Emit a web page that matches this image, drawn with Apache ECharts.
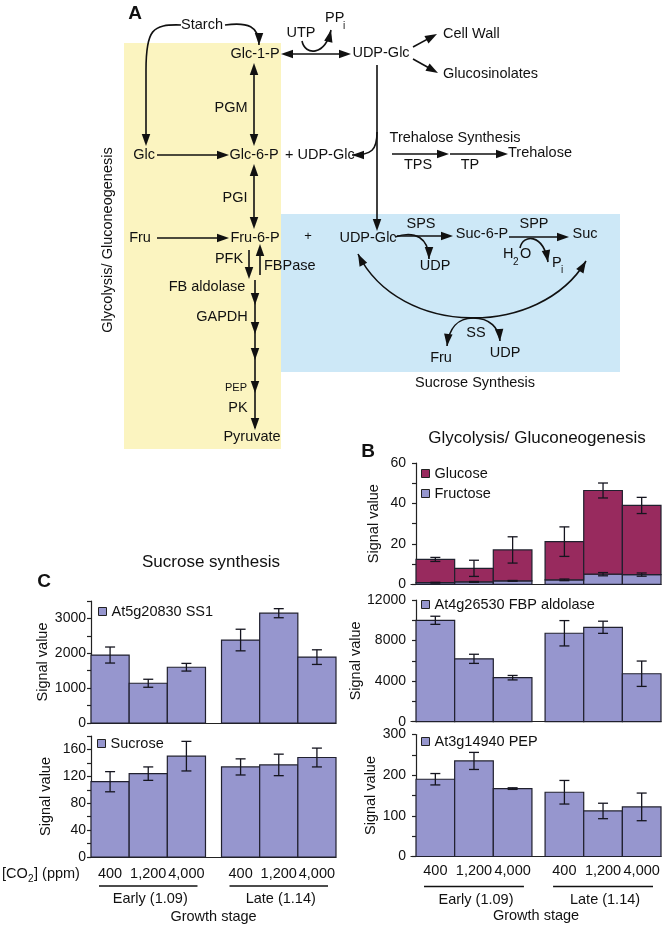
<!DOCTYPE html>
<html><head><meta charset="utf-8">
<script src="https://cdn.jsdelivr.net/npm/echarts/dist/echarts.min.js"></script>
<style>html,body{margin:0;padding:0;background:#fff}#c{width:667px;height:928px}</style>
</head><body><div id="c"></div>
<script>
// ---------- data ----------
const co2Labels = ['400','1,200','4,000','400','1,200','4,000'];
const stageLabels = ['Early (1.09)','Late (1.14)'];
const fructose = [0.8, 1.2, 1.7, 2.2, 5.0, 4.8];
const fructoseErr = [0.2, 0.2, 0.2, 0.4, 0.8, 0.8];
const glucose = [11.5, 6.7, 15.3, 18.9, 41.4, 34.2];   // stacked on fructose
const glucoseErr = [1.0, 4.0, 6.5, 7.3, 3.7, 4.0];
const fbpAldolase = [10000, 6200, 4340, 8720, 9310, 4730];
const fbpErr = [400, 450, 220, 1250, 600, 1250];
const pep = [190, 235, 167, 158, 112, 122];
const pepErr = [14, 21, 2, 29, 19, 34];
const ss1 = [1950, 1140, 1600, 2380, 3150, 1890];
const ss1Err = [230, 115, 110, 310, 130, 210];
const sucrose = [112, 124, 150, 134, 137, 148];
const sucroseErr = [15, 10, 22, 12, 16, 14];

// ---------- style ----------
const FONT = '"Liberation Sans", Arial, Helvetica, sans-serif';
const BAR = '#9696CE', GLU = '#982A5E', EDGE = '#20202e', INK = '#111';
const GAP_B = 0.34, GAP_C = 0.42;
function xPos(i, gap){ return i + 0.5 + (i >= 3 ? gap : 0); }

// ---------- chart series helpers ----------
function barSeries(name, gi, color, vals, bases, gap){
  return { type:'custom', name, xAxisIndex:gi, yAxisIndex:gi, z:3,
    itemStyle:{color, borderColor:EDGE, borderWidth:1},
    data: vals.map((v,i)=>{ const b = bases ? bases[i] : 0; return [xPos(i,gap), b, b+v]; }),
    renderItem(params, api){
      const x = api.value(0);
      const a = api.coord([x-0.5, api.value(1)]);
      const b = api.coord([x+0.5, api.value(2)]);
      return {type:'rect', shape:{x:a[0], y:b[1], width:b[0]-a[0], height:a[1]-b[1]},
        style:{fill:color, stroke:EDGE, lineWidth:1.2}};
    }};
}
function errSeries(gi, vals, errs, bases, gap){
  return { type:'custom', name:'err'+gi+'_'+(bases?'s':'b'), xAxisIndex:gi, yAxisIndex:gi, z:6, silent:true,
    data: vals.map((v,i)=>{ const c = v + (bases ? bases[i] : 0); return [xPos(i,gap), c-errs[i], c+errs[i]]; }),
    renderItem(params, api){
      const x = api.value(0);
      const lo = api.coord([x, api.value(1)]);
      const hi = api.coord([x, api.value(2)]);
      const h = 5, st = {stroke:'#15151f', lineWidth:1.3};
      return {type:'group', children:[
        {type:'line', shape:{x1:lo[0],y1:lo[1],x2:hi[0],y2:hi[1]}, style:st},
        {type:'line', shape:{x1:lo[0]-h,y1:lo[1],x2:lo[0]+h,y2:lo[1]}, style:st},
        {type:'line', shape:{x1:hi[0]-h,y1:hi[1],x2:hi[0]+h,y2:hi[1]}, style:st}]};
    }};
}
function xLabelSeries(gi, gap, dy){
  return { type:'custom', name:'xl'+gi, xAxisIndex:gi, yAxisIndex:gi, silent:true, clip:false,
    data: co2Labels.map((l,i)=>[xPos(i,gap), 0]),
    renderItem(params, api){
      const p = api.coord([api.value(0), 0]);
      return {type:'text', x:p[0], y:p[1]+dy, style:{text:co2Labels[params.dataIndex], font:'14.5px '+FONT,
        fill:'#111', align:'center', verticalAlign:'middle'}};
    }};
}
function stageSeries(gi, gap, lineDy, textDy, inset){
  return { type:'custom', name:'st'+gi, xAxisIndex:gi, yAxisIndex:gi, silent:true, clip:false,
    data: stageLabels.map((s,k)=>[k*3 + (k ? gap : 0), k*3 + 3 + (k ? gap : 0)]),
    renderItem(params, api){
      const a = api.coord([api.value(0), 0]);
      const b = api.coord([api.value(1), 0]);
      return {type:'group', children:[
        {type:'line', shape:{x1:a[0]+inset, y1:a[1]+lineDy, x2:b[0]-inset, y2:a[1]+lineDy}, style:{stroke:'#111', lineWidth:1.3}},
        {type:'text', x:(a[0]+b[0])/2+2, y:a[1]+textDy, style:{text:stageLabels[params.dataIndex], font:'14.5px '+FONT,
          fill:'#111', align:'center', verticalAlign:'middle'}}]};
    }};
}
function yAx(gi, max, interval, every, nameGap){
  return {type:'value', gridIndex:gi, min:0, max, interval, name:'Signal value', nameLocation:'middle', nameGap,
    nameTextStyle:{fontSize:14.5, color:'#111', fontFamily:FONT},
    axisLine:{show:true, lineStyle:{color:'#222', width:1.2}},
    axisTick:{show:true, length:4, lineStyle:{color:'#222', width:1.2}},
    axisLabel:{fontSize:14, color:'#111', fontFamily:FONT, margin:5, formatter: v => (v % every === 0 ? String(v) : '')},
    splitLine:{show:false}};
}
function xAx(gi, min, max, name){
  return {type:'value', gridIndex:gi, min, max, name: name || '', nameLocation:'middle', nameGap:52,
    nameTextStyle:{fontSize:14.5, color:'#111', fontFamily:FONT},
    axisLine:{show:true, onZero:false, lineStyle:{color:'#222', width:1.2}},
    axisTick:{show:false}, axisLabel:{show:false}, splitLine:{show:false}};
}
function leg(names, left, top){
  return {data:names, left, top, orient:'vertical', padding:0, itemWidth:8, itemHeight:8, itemGap:5,
    icon:'rect', selectedMode:false, itemStyle:{borderColor:'#222', borderWidth:1},
    textStyle:{fontSize:14.5, color:'#111', fontFamily:FONT}};
}

// ---------- diagram (panel A) ----------
const G = [];
function txt(s, x, y, size, o){ o = o || {};
  G.push({type:'text', x, y, z:10, rotation:o.rot||0, silent:true,
    style:{text:s, font:(o.bold?'bold ':'')+size+'px '+FONT, fill:'#111',
      align:o.align||'center', verticalAlign:'middle', textAlign:o.align||'center', textVerticalAlign:'middle'}}); }
function head(x, y, ang, len, w){ len = len||12; w = w||8.5;
  const dx=Math.cos(ang), dy=Math.sin(ang), bx=x-len*dx, by=y-len*dy;
  G.push({type:'polygon', z:11, silent:true, shape:{points:[[x,y],[bx - w/2*dy, by + w/2*dx],[bx + w/2*dy, by - w/2*dx]]}, style:{fill:INK}}); }
function seg(x1,y1,x2,y2){ G.push({type:'line', z:9, silent:true, shape:{x1,y1,x2,y2}, style:{stroke:INK, lineWidth:1.6}}); }
function arrow(x1,y1,x2,y2,both){ const a=Math.atan2(y2-y1,x2-x1), c=Math.cos(a)*4, s=Math.sin(a)*4;
  seg(both?x1+c:x1, both?y1+s:y1, x2-c, y2-s); head(x2,y2,a); if(both) head(x1,y1,a+Math.PI); }
function curve(p0,c1,c2,p3,endHead,startHead){
  G.push({type:'bezierCurve', z:9, silent:true, shape:{x1:p0[0],y1:p0[1],cpx1:c1[0],cpy1:c1[1],cpx2:c2[0],cpy2:c2[1],x2:p3[0],y2:p3[1]},
    style:{stroke:INK, lineWidth:1.6, fill:null}});
  if(endHead!==false) head(p3[0],p3[1],Math.atan2(p3[1]-c2[1],p3[0]-c2[0]));
  if(startHead) head(p0[0],p0[1],Math.atan2(p0[1]-c1[1],p0[0]-c1[0])); }

G.push({type:'rect', z:1, silent:true, shape:{x:124,y:43,width:157,height:406}, style:{fill:'#FBF4C0'}});
G.push({type:'rect', z:1, silent:true, shape:{x:281,y:214,width:339,height:158}, style:{fill:'#CDE8F7'}});

txt('A', 135, 14, 19, {bold:true});
txt('B', 368, 452, 19, {bold:true});
txt('C', 44, 582, 19, {bold:true});
txt('Glycolysis/ Gluconeogenesis', 537, 438, 17);
txt('Sucrose synthesis', 211, 562, 17);

txt('Starch', 202, 25, 14.5);
txt('Glc-1-P', 255, 54, 14.5);
txt('UTP', 301, 33, 14.5);
txt('PP', 325, 18, 14.5, {align:'left'});
txt('i', 343, 26, 10, {align:'left'});
txt('UDP-Glc', 381, 53, 14.5);
txt('Cell Wall', 443, 34, 14.5, {align:'left'});
txt('Glucosinolates', 443, 74, 14.5, {align:'left'});
txt('PGM', 231, 108, 14.5);
txt('Glc', 144, 155, 14.5);
txt('Glc-6-P', 254, 155, 14.5);
txt('+ UDP-Glc', 285, 155, 14.5, {align:'left'});
txt('Trehalose Synthesis', 455, 138, 14.5);
txt('TPS', 418, 165, 14.5);
txt('TP', 470, 165, 14.5);
txt('Trehalose', 508, 153, 14.5, {align:'left'});
txt('PGI', 235, 198, 14.5);
txt('Fru', 140, 238, 14.5);
txt('Fru-6-P', 255, 238, 14.5);
txt('+', 308, 236, 13);
txt('UDP-Glc', 368, 238, 14.5);
txt('SPS', 421, 224, 14.5);
txt('UDP', 435, 266, 14.5);
txt('Suc-6-P', 482, 234, 14.5);
txt('SPP', 534, 224, 14.5);
txt('Suc', 585, 234, 14.5);
txt('H', 503, 254, 14.5, {align:'left'});
txt('2', 513, 262, 10, {align:'left'});
txt('O', 520, 254, 14.5, {align:'left'});
txt('P', 552, 263, 14.5, {align:'left'});
txt('i', 561, 270, 10, {align:'left'});
txt('SS', 476, 333, 14.5);
txt('Fru', 441, 358, 14.5);
txt('UDP', 505, 353, 14.5);
txt('Sucrose Synthesis', 475, 383, 14.5);
txt('PFK', 229, 259, 14.5);
txt('FBPase', 264, 266, 14.5, {align:'left'});
txt('FB aldolase', 207, 287, 14.5);
txt('GAPDH', 222, 317, 14.5);
txt('PEP', 236, 388, 11);
txt('PK', 238, 408, 14.5);
txt('Pyruvate', 252, 437, 14.5);
txt('Glycolysis/ Gluconeogenesis', 108, 240, 14.5, {rot:Math.PI/2});
txt('[CO', 2, 874, 14.5, {align:'left'});
txt('2', 28, 879, 10, {align:'left'});
txt('] (ppm)', 34, 874, 14.5, {align:'left'});

// arrows
curve([181,25],[152,24],[146,30],[146,70],false); arrow(146,70,146,146);
curve([225,25],[248,22],[259,26],[259,45]);
arrow(281,54,351,54,true);
curve([302,41],[305,56],[325,56],[331,30]);
arrow(413,47,437,34);
arrow(413,59,438,73);
arrow(377,65,377,231);
curve([377,132],[377,150],[372,155],[352,155]);
arrow(254,63,254,146,true);
arrow(157,155,229,155);
arrow(254,164,254,229,true);
arrow(157,238,229,238);
arrow(392,154,449,154);
arrow(450,154,508,154);
arrow(397,236,453,236);
curve([395,237],[415,230],[429,238],[429,259]);
arrow(509,237,569,237);
curve([520,248],[523,234],[543,233],[548,262]);
curve([358,254],[400,338],[540,338],[586,261],true,true);
curve([473,318],[458,318],[449,328],[447,346]);
curve([473,318],[490,318],[499,328],[500,341]);
arrow(249,250,249,279);
arrow(260,275,260,244);
seg(255,280,255,428);
[305,334,360,393,430].forEach(y=>head(255,y,Math.PI/2));

// ---------- option ----------
const grids = [
  {left:411, width:250, top:463, height:121.3},
  {left:411, width:250, top:600, height:121.7},
  {left:411, width:250, top:734.5, height:122},
  {left:91, width:245, top:601, height:122},
  {left:91, width:245, top:736, height:121}
];
const option = {
  animation:false,
  textStyle:{fontFamily:FONT},
  grid: grids,
  xAxis: [xAx(0,-0.13,6+GAP_B), xAx(1,-0.13,6+GAP_B), xAx(2,-0.13,6+GAP_B,'Growth stage'),
          xAx(3,0,6+GAP_C), xAx(4,0,6+GAP_C,'Growth stage')],
  yAxis: [yAx(0,60,10,20,30), yAx(1,12000,2000,4000,30), yAx(2,300,50,100,30),
          yAx(3,3500,500,1000,38), yAx(4,180,20,40,38)],
  legend: [leg(['Glucose','Fructose'],421,466), leg(['At4g26530 FBP aldolase'],421,597),
           leg(['At3g14940 PEP'],421,734), leg(['At5g20830 SS1'],98,604), leg(['Sucrose'],97,736)],
  graphic: G,
  series: [
    barSeries('Fructose',0,BAR,fructose,null,GAP_B),
    barSeries('Glucose',0,GLU,glucose,fructose,GAP_B),
    errSeries(0,fructose,fructoseErr,null,GAP_B),
    errSeries(0,glucose,glucoseErr,fructose,GAP_B),
    barSeries('At4g26530 FBP aldolase',1,BAR,fbpAldolase,null,GAP_B),
    errSeries(1,fbpAldolase,fbpErr,null,GAP_B),
    barSeries('At3g14940 PEP',2,BAR,pep,null,GAP_B),
    errSeries(2,pep,pepErr,null,GAP_B),
    xLabelSeries(2,GAP_B,14),
    stageSeries(2,GAP_B,30,43,8),
    barSeries('At5g20830 SS1',3,BAR,ss1,null,GAP_C),
    errSeries(3,ss1,ss1Err,null,GAP_C),
    barSeries('Sucrose',4,BAR,sucrose,null,GAP_C),
    errSeries(4,sucrose,sucroseErr,null,GAP_C),
    xLabelSeries(4,GAP_C,17),
    stageSeries(4,GAP_C,29,42,8)
  ]
};
const chart = echarts.init(document.getElementById('c'), null, {renderer:'canvas'});
chart.setOption(option);
</script></body></html>
